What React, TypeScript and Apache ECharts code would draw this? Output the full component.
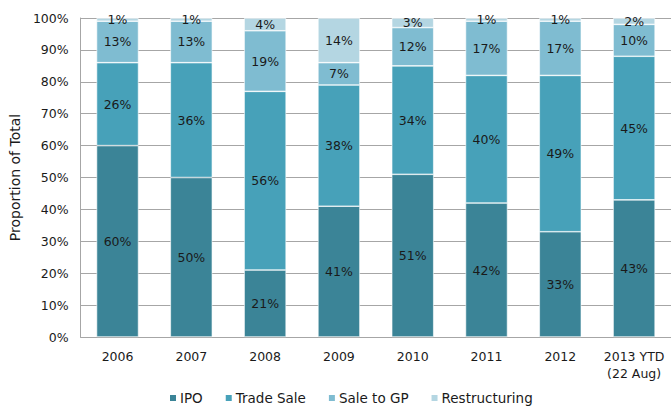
import React, { useEffect, useRef } from "react";
import * as echarts from "echarts";

const categories = ["2006", "2007", "2008", "2009", "2010", "2011", "2012", "2013 YTD\n(22 Aug)"];
const ipo = [60, 50, 21, 41, 51, 42, 33, 43];
const tradeSale = [26, 36, 56, 38, 34, 40, 49, 45];
const saleToGP = [13, 13, 19, 7, 12, 17, 17, 10];
const restructuring = [1, 1, 4, 14, 3, 1, 1, 2];

const FONT = "DejaVu Sans";

export default function App() {
  const ref = useRef<HTMLDivElement>(null);
  useEffect(() => {
    if (!ref.current) return;
    const chart = echarts.init(ref.current, undefined, { renderer: "svg" });
    const mk = (name: string, data: number[], color: string) => ({
      name,
      type: "bar",
      stack: "total",
      data,
      barWidth: 42,
      itemStyle: { color, borderColor: "#ffffff", borderWidth: 0.6 },
      label: {
        show: true,
        position: "inside",
        formatter: "{c}%",
        color: "#1a1a1a",
        fontFamily: FONT,
        fontSize: 12.5,
      },
    });
    chart.setOption({
      animation: false,
      textStyle: { fontFamily: FONT },
      grid: { left: 80, top: 18, width: 595, bottom: 72, containLabel: false },
      xAxis: {
        type: "category",
        data: categories,
        axisLine: { show: true, lineStyle: { color: "#a6a6a6" } },
        axisTick: { show: false },
        axisLabel: {
          interval: 0,
          color: "#1a1a1a",
          fontFamily: FONT,
          fontSize: 12.5,
          margin: 11,
          lineHeight: 17,
        },
      },
      yAxis: {
        type: "value",
        min: 0,
        max: 100,
        interval: 10,
        name: "Proportion of Total",
        nameLocation: "middle",
        nameGap: 54,
        nameTextStyle: { color: "#1a1a1a", fontFamily: FONT, fontSize: 14 },
        axisLine: { show: true, lineStyle: { color: "#a6a6a6" } },
        axisTick: { show: false },
        axisLabel: { formatter: "{value}%", color: "#1a1a1a", fontFamily: FONT, fontSize: 12.5, margin: 12 },
        splitLine: { show: true, lineStyle: { color: "#a6a6a6", width: 1 } },
      },
      legend: {
        top: 386,
        left: 163,
        itemWidth: 8,
        itemHeight: 8,
        itemGap: 21,
        icon: "rect",
        textStyle: { color: "#1a1a1a", fontFamily: FONT, fontSize: 13.5, padding: [0, 0, 0, -2] },
        data: ["IPO", "Trade Sale", "Sale to GP", "Restructuring"],
      },
      series: [
        mk("IPO", ipo, "#3b8497"),
        mk("Trade Sale", tradeSale, "#47a1b9"),
        mk("Sale to GP", saleToGP, "#7fbcd1"),
        mk("Restructuring", restructuring, "#b4d6e2"),
      ],
    });
    return () => chart.dispose();
  }, []);
  return <div ref={ref} style={{ width: 671, height: 409, position: "absolute", left: 0, top: 0 }} />;
}
